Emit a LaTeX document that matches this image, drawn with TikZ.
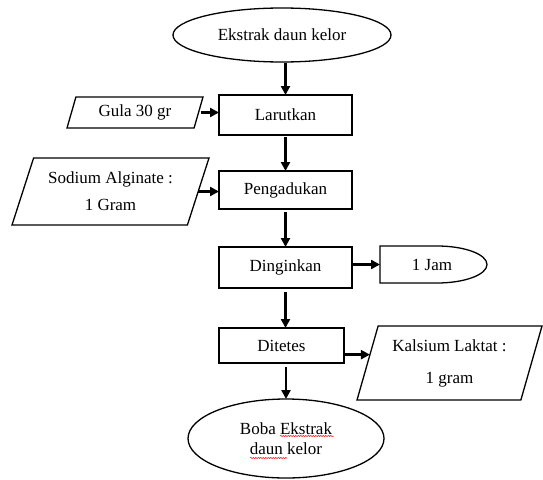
\documentclass[tikz,border=0pt]{standalone}
\usepackage{fontspec}
\setmainfont{Liberation Serif}
\usetikzlibrary{shapes.geometric,arrows.meta,decorations.pathmorphing}
\begin{document}
\begin{tikzpicture}[x=1pt,y=-1pt,
  every node/.style={font=\fontsize{17}{20}\selectfont, inner sep=0pt, outer sep=0pt},
  proc/.style={draw, line width=1.3pt, rectangle},
  term/.style={draw, line width=1.3pt, ellipse},
  io/.style={draw, line width=1.3pt, trapezium, trapezium stretches body, align=center},
  arr/.style={line width=2.4pt, -{Triangle[length=9pt,width=9pt]}},
  squig/.style={red, line width=0.5pt, decorate, decoration={snake, amplitude=0.6pt, segment length=2.5pt}}
]
\useasboundingbox (0,0) rectangle (543,479);

\node[term, minimum width=218pt, minimum height=54pt] (start) at (282,35) {Ekstrak daun kelor};
\node[proc, minimum width=133pt, minimum height=40pt] (lar) at (285.5,115) {Larutkan};
\node[io, trapezium left angle=60, trapezium right angle=120, minimum width=136pt, minimum height=31pt] (gula) at (135,112.5) {Gula 30 gr};
\node[proc, minimum width=133pt, minimum height=38pt] (peng) at (285.5,190) {Pengadukan};
\node[io, trapezium left angle=61, trapezium right angle=119, minimum width=197pt, minimum height=67pt] (sod) at (110.5,191.5) {Sodium Alginate :\\[7pt]1 Gram};
\node[proc, minimum width=133pt, minimum height=41pt] (ding) at (285.5,267.5) {Dinginkan};
\node[minimum width=107pt, minimum height=37pt, text depth=0pt] (jam) at (433.5,264.5) {\hspace*{-3pt}1 Jam};
\draw[line width=1.3pt] (jam.south west) -- (jam.north west) -- ([xshift=-50pt]jam.north east)
  arc[start angle=90, end angle=-90, x radius=50pt, y radius=18.5pt] -- cycle;
\node[proc, minimum width=125pt, minimum height=35pt] (dit) at (281.5,345.5) {Ditetes};
\node[io, trapezium left angle=66, trapezium right angle=114, minimum width=185pt, minimum height=74pt] (kal) at (449.5,363) {Kalsium Laktat :\\[12pt]1 gram};
\node[term, minimum width=196pt, minimum height=79pt, align=center] (stop) at (286,438.5) {Boba Ekstrak\\daun kelor};

\draw[arr, shorten <=1pt] (lar.north |- start.south) -- (lar.north);
\draw[arr, shorten <=2pt] (gula.east) -- (gula.east -| lar.west);
\draw[arr, shorten <=2pt] (lar.south) -- (peng.north);
\draw[arr] (sod.east) -- (sod.east -| peng.west);
\draw[arr, shorten <=3pt] (peng.south) -- (ding.north);
\draw[arr] (ding.east |- jam.west) -- (jam.west);
\draw[arr, shorten <=4pt] (ding.south) -- (ding.south |- dit.north);
\draw[arr] (dit.east |- kal.174) -- (kal.174);
\draw[arr, shorten <=4pt] (dit.south -| stop.north) -- (stop.north);

\draw[squig] (280,436) -- (334,436);
\draw[squig] (250,458) -- (287,458);
\end{tikzpicture}
\end{document}
